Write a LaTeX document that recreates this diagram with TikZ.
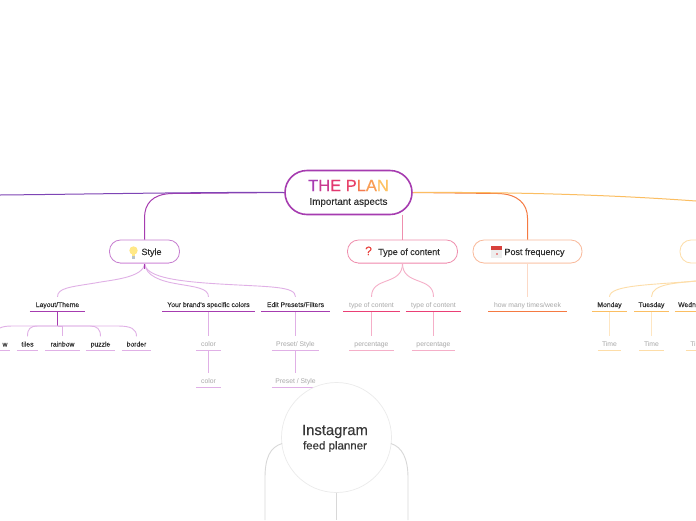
\documentclass[tikz,border=0pt]{standalone}
\usepackage{fontspec}
\setmainfont{Liberation Sans}
\newfontfamily\medium[FakeBold=0.25]{Liberation Sans}
\newfontfamily\semi[FakeBold=0.5]{Liberation Sans}
\definecolor{ink}{HTML}{303030}
\definecolor{faint}{HTML}{A8A8A8}
\definecolor{purp}{HTML}{A63CB0}
\definecolor{purpm}{HTML}{C77FD0}
\definecolor{purpl}{HTML}{E0B0E6}
\definecolor{pinkd}{HTML}{EA3F75}
\definecolor{pinkm}{HTML}{EF8FAE}
\definecolor{pinkl}{HTML}{F5AFC8}
\definecolor{orad}{HTML}{F57A42}
\definecolor{oram}{HTML}{F9B99A}
\definecolor{oral}{HTML}{FCD9C6}
\definecolor{yeld}{HTML}{FBBE62}
\definecolor{yelm}{HTML}{FDDDA8}
\definecolor{yell}{HTML}{FEE6C2}
\definecolor{grayl}{HTML}{D8D8D8}
\definecolor{violet2}{HTML}{7E45B5}
\definecolor{bulb}{HTML}{FFE887}
\definecolor{bulbbase}{HTML}{B8C4CC}
\definecolor{calbody}{HTML}{EDEDED}
\definecolor{caltop}{HTML}{D8413C}
\definecolor{caldot}{HTML}{E89090}
\definecolor{circline}{HTML}{EBEBEB}
\definecolor{instatext}{HTML}{383838}
\tikzset{
  leaf/.style={inner sep=0pt,minimum height=14pt,text height=6pt,text depth=0pt,font=\fontsize{6.8}{8}\selectfont\medium,text=ink},
  sub/.style={inner sep=0pt,minimum height=14pt,text height=6pt,text depth=0pt,font=\fontsize{6.8}{8}\selectfont,text=faint},
  pill/.style={rounded corners=11pt,draw,line width=.8pt,fill=white,inner sep=0pt,minimum height=23pt,text height=7pt,text depth=0pt,font=\fontsize{9}{11}\selectfont\medium,text=ink},
  link/.style={line width=1pt},
  curvelink/.style={line width=.9pt},
  rule/.style={line width=.9pt},
}
\begin{document}
\begin{tikzpicture}[x=1pt,y=-1pt]
\useasboundingbox (0,0) rectangle (696,520);
\fill[white] (0,0) rectangle (696,520);
% free ends
\coordinate (leftend) at (0,195);
\coordinate (rightend) at (696,201);
\coordinate (dayhub) at (696,281);
\coordinate (layouthub) at (57.5,326);
\coordinate (wtop) at (0,328);
\coordinate (gl) at (265,520);
\coordinate (gm) at (336.5,520);
\coordinate (gr) at (408,520);
% top nodes
\node[pill,draw=purp,line width=1.6pt,rounded corners=22pt,minimum width=127pt,minimum height=44pt] (plan) at (348.5,192.5) {};
\node[inner sep=0pt,font=\fontsize{16.5}{18}\selectfont\semi] (plantitle) at (348.5,185.5) {\textcolor[HTML]{A83DB2}{T}\textcolor[HTML]{C93A90}{H}\textcolor[HTML]{E3386F}{E} \textcolor[HTML]{E8436A}{P}\textcolor[HTML]{F47A50}{L}\textcolor[HTML]{F99D55}{A}\textcolor[HTML]{FEC262}{N}};
\node[inner sep=0pt,font=\fontsize{9.8}{11}\selectfont\medium,text=ink] (plansub) at (348.5,202.5) {Important aspects};
\node[pill,draw=purpm,minimum width=70pt] (style) at (144.5,251.5) {\hspace{14pt}Style};
\node[pill,draw=pinkm,minimum width=110pt] (type) at (402.5,251.5) {\textcolor[HTML]{E8403C}{\fontsize{12}{12}\selectfont\semi ?}\hspace{3pt} Type of content};
\node[pill,draw=oram,minimum width=109pt] (post) at (527.5,251.5) {\hspace{14pt}Post frequency};
\node[pill,draw=yelm,minimum width=60pt] (days) at (710,251.5) {};
% level 2
\node[leaf,minimum width=55pt] (layout) at (57.5,304) {Layout/Theme};
\node[leaf,minimum width=92pt] (brand) at (208.5,304) {Your brand's specific colors};
\node[leaf,minimum width=68pt] (edit) at (295.5,304) {Edit Presets/Filters};
\node[sub,minimum width=56pt] (t1) at (371.5,304) {type of content};
\node[sub,minimum width=55pt] (t2) at (433.5,304) {type of content};
\node[sub,minimum width=78pt] (week) at (527.5,304) {how many times/week};
\node[leaf,minimum width=35pt] (mon) at (609.5,304) {Monday};
\node[leaf,minimum width=34pt] (tue) at (651.5,304) {Tuesday};
\node[leaf,minimum width=21pt] (wed) at (685.5,304) {\hspace{3pt}Wedn};
% level 3
\node[leaf,minimum width=10pt] (wnode) at (5,343.5) {w};
\node[leaf,minimum width=21pt] (tiles) at (27.5,343.5) {tiles};
\node[leaf,minimum width=34pt] (rainbow) at (62.5,343.5) {rainbow};
\node[leaf,minimum width=29pt] (puzzle) at (100.5,343.5) {puzzle};
\node[leaf,minimum width=29pt] (border) at (136.5,343.5) {border};
\node[sub,minimum width=24pt] (c1) at (208.5,343.5) {color};
\node[sub,minimum width=24pt] (c2) at (208.5,380.5) {color};
\node[sub,minimum width=47pt] (p1) at (295.5,343.5) {Preset/ Style};
\node[sub,minimum width=47pt] (p2) at (295.5,380.5) {Preset / Style};
\node[sub,minimum width=44pt] (pc1) at (371.5,343.5) {percentage};
\node[sub,minimum width=43pt] (pc2) at (433.5,343.5) {percentage};
\node[sub,minimum width=23pt] (tm1) at (609.5,343.5) {Time};
\node[sub,minimum width=24pt] (tm2) at (651.5,343.5) {Time};
\node[sub,minimum width=10pt] (tm3) at (691,343.5) {\hspace{4pt}Ti};
% connectors level 0-1
\draw[line width=1pt,draw=purp] (plan.west) -- (172,193.5) .. controls (152,194) and (144.5,204) .. (144.5,218) -- (style.north);
\draw[line width=1pt,draw=violet2] (plan.west) .. controls (200,192) and (100,194) .. (leftend);
\draw[line width=1pt,draw=orad] (plan.east) -- (498,193.5) .. controls (518,194) and (527.5,204) .. (527.5,218) -- (post.north);
\draw[line width=1pt,draw=yeld] (plan.east) .. controls (500,192) and (600,194) .. (rightend);
\draw[line width=1.1pt,draw=pinkm] (402.5,214.5) -- (type.north);
% style children
\draw[curvelink,draw=purpl] (style.south) .. controls (144,278) and (110,280) .. (95,283) .. controls (70,287) and (57.5,288) .. (layout.north);
\draw[curvelink,draw=purpl] (style.south) .. controls (146,276) and (160,281) .. (178,284) .. controls (195,287) and (208.5,288) .. (brand.north);
\draw[curvelink,draw=purpl] (style.south) .. controls (146,276) and (170,281) .. (220,284) .. controls (270,287) and (295.5,286) .. (edit.north);
\draw[line width=1.2pt,draw=purp] (style.south) -- ++(0,6);
\draw[curvelink,draw=pinkl] (type.south) .. controls (402.5,286) and (371.5,276) .. (t1.north);
\draw[curvelink,draw=pinkl] (type.south) .. controls (402.5,286) and (433.5,276) .. (t2.north);
\draw[link,draw=oral] (post.south) -- (week.north);
\draw[curvelink,draw=yelm] (dayhub) .. controls (650,285) and (609.5,285) .. (mon.north);
\draw[curvelink,draw=yelm] (dayhub) .. controls (680,283) and (651.5,283) .. (tue.north);
% layout children
\draw[line width=1.2pt,draw=purp] (layout.south) -- (layouthub);
\draw[curvelink,draw=purpl] (layouthub) -- (38,326) .. controls (30,326) and (27.5,329) .. (tiles.north);
\draw[curvelink,draw=purpl] (layouthub) -- (12,326) .. controls (5,326) and (2,327) .. (wtop);
\draw[curvelink,draw=purpl] (layouthub) -- (62.5,326) -- (rainbow.north);
\draw[curvelink,draw=purpl] (layouthub) -- (90,326) .. controls (97,326) and (100.5,329) .. (puzzle.north);
\draw[curvelink,draw=purpl] (layouthub) -- (118,326) .. controls (131,326) and (136.5,329) .. (border.north);
% vertical links
\draw[link,draw=purpl] (brand.south) -- (c1.north);
\draw[link,draw=purpl] (c1.south) -- (c2.north);
\draw[link,draw=purpl] (edit.south) -- (p1.north);
\draw[link,draw=purpl] (p1.south) -- (p2.north);
\draw[link,draw=pinkl] (t1.south) -- (pc1.north);
\draw[link,draw=pinkl] (t2.south) -- (pc2.north);
\draw[link,draw=yell] (mon.south) -- (tm1.north);
\draw[link,draw=yell] (tue.south) -- (tm2.north);
% underlines
\foreach \n in {layout,brand,edit}{\draw[rule,draw=purp] (\n.south west) -- (\n.south east);}
\foreach \n in {t1,t2}{\draw[rule,draw=pinkd] (\n.south west) -- (\n.south east);}
\draw[rule,draw=orad] (week.south west) -- (week.south east);
\foreach \n in {mon,tue,wed}{\draw[rule,draw=yeld] (\n.south west) -- (\n.south east);}
\foreach \n in {wnode,tiles,rainbow,puzzle,border,c1,c2,p1,p2}{\draw[rule,draw=purpl] (\n.south west) -- (\n.south east);}
\foreach \n in {pc1,pc2}{\draw[rule,draw=pinkl] (\n.south west) -- (\n.south east);}
\foreach \n in {tm1,tm2,tm3}{\draw[rule,draw=yelm] (\n.south west) -- (\n.south east);}
% thick pill bottoms
\draw[line width=1pt,draw=purpl] ([xshift=11pt]style.south west) -- ([xshift=-11pt]style.south east);
\draw[line width=1pt,draw=pinkl] ([xshift=11pt]type.south west) -- ([xshift=-11pt]type.south east);
\draw[line width=1pt,draw=oral] ([xshift=11pt]post.south west) -- ([xshift=-11pt]post.south east);
% emoji shapes
\fill[bulb] (133.5,250.5) circle (4.2pt);
\fill[bulb] (132,253) rectangle (135,256);
\fill[bulbbase] (132,256) rectangle (135,258.5);
\fill[calbody] (491,246) rectangle (502,258);
\fill[caltop] (491,246) rectangle (502,249.5);
\fill[caldot] (496,253) rectangle (497.5,254.5);
% planner circle and links
\node[circle,draw=circline,line width=.7pt,fill=white,minimum size=110pt,inner sep=0pt] (insta) at (336.5,437.5) {};
\draw[curvelink,draw=grayl] (insta.west) ++(1,6) .. controls (270,447) and (265,458) .. (265,478) -- (gl);
\draw[curvelink,draw=grayl] (insta.south) -- (gm);
\draw[curvelink,draw=grayl] (insta.east) ++(-1,6) .. controls (402,447) and (408,458) .. (408,478) -- (gr);
\node[inner sep=0pt,font=\fontsize{14.8}{17}\selectfont\medium,text=instatext] (instatitle) at (335,431.5) {Instagram};
\node[inner sep=0pt,font=\fontsize{11.5}{13}\selectfont\medium,text=instatext] (instasub) at (335,446.5) {feed planner};
\end{tikzpicture}
\end{document}
